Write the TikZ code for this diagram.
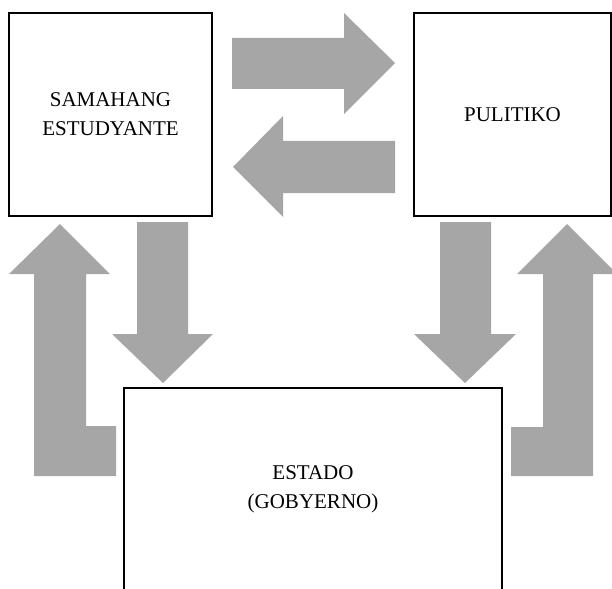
\documentclass[tikz,border=0pt]{standalone}
\usepackage{fontspec}
\setmainfont{Liberation Serif}
\usepackage{tikz}

\definecolor{abo}{RGB}{166,166,166}

\begin{document}
\begin{tikzpicture}[
                x=1pt, y=-1pt,                % isang pt = isang pixel
                every node/.style={
                    rectangle,
                    draw,
                    line width=1.6pt,
                    align=center,
                    inner sep=0pt,
                    font=\fontsize{21}{29}\selectfont
                },
                blok/.style={fill=abo, draw=none}
            ]
                \useasboundingbox (0,0) rectangle (612,588);
                \clip (0,0) rectangle (612,588);

                % mga kahon
                \node[minimum width=203pt, minimum height=203pt] (samahang) at (110.5,114.5) {SAMAHANG\\ESTUDYANTE};
                \node[minimum width=197pt, minimum height=203pt] (pulitiko) at (512.5,114.5) {PULITIKO};
                \node[minimum width=378pt, minimum height=203pt] (estado) at (313,489.5) {ESTADO\\(GOBYERNO)};

                % mga arrow sa itaas
                \fill[blok] (232,38) -- (344,38) -- (344,13) -- (395,63) -- (344,114) -- (344,89) -- (232,89) -- cycle;
                \fill[blok] (395,141) -- (283,141) -- (283,116) -- (233,167) -- (283,217) -- (283,193) -- (395,193) -- cycle;

                % pababa
                \fill[blok] (137,222) -- (188,222) -- (188,334) -- (213,334) -- (163,383) -- (112,334) -- (137,334) -- cycle;
                \fill[blok] (440,222) -- (491,222) -- (491,334) -- (516,334) -- (465,383) -- (414,334) -- (440,334) -- cycle;

                % pataas (hugis L)
                \fill[blok] (60,224) -- (110,274) -- (86,274) -- (86,426) -- (116,426) -- (116,476) -- (34,476) -- (34,274) -- (9,274) -- cycle;
                \fill[blok] (567,224) -- (617,274) -- (593,274) -- (593,476) -- (511,476) -- (511,427) -- (543,427) -- (543,274) -- (517,274) -- cycle;
            \end{tikzpicture}
\end{document}
